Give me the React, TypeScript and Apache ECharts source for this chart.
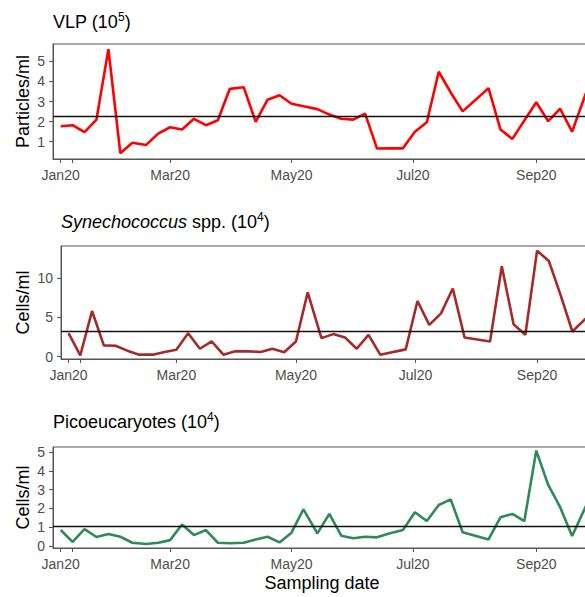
import React, { useEffect, useRef } from "react";
import * as echarts from "echarts";

// ---- data ----
const sampleDates = [
  "2020-01-06", "2020-01-12", "2020-01-18", "2020-01-24", "2020-01-30",
  "2020-02-05", "2020-02-11", "2020-02-18", "2020-02-24", "2020-03-01",
  "2020-03-07", "2020-03-13", "2020-03-19", "2020-03-25", "2020-03-31",
  "2020-04-07", "2020-04-13", "2020-04-19", "2020-04-25", "2020-05-01",
  "2020-05-07", "2020-05-14", "2020-05-20", "2020-05-26", "2020-06-01",
  "2020-06-07", "2020-06-13", "2020-06-19", "2020-06-26", "2020-07-02",
  "2020-07-08", "2020-07-14", "2020-07-20", "2020-07-26", "2020-08-08",
  "2020-08-14", "2020-08-20", "2020-08-26", "2020-09-01", "2020-09-07",
  "2020-09-13", "2020-09-19", "2020-09-26",
];

const vlp = [
  1.77, 1.82, 1.48, 2.10, 5.60, 0.43, 0.95, 0.84, 1.40, 1.72,
  1.61, 2.14, 1.82, 2.07, 3.63, 3.71, 1.99, 3.09, 3.31, 2.89,
  2.76, 2.62, 2.35, 2.14, 2.10, 2.40, 0.66, 0.67, 0.67, 1.50,
  1.97, 4.48, 3.45, 2.51, 3.66, 1.61, 1.14, null, 2.96, 2.02,
  2.64, 1.50, 3.42,
];

const synechococcus = [
  2.98, 0.17, 5.80, 1.43, 1.39, 0.76, 0.25, 0.25, 0.59, 0.88,
  2.98, 1.00, 1.93, 0.25, 0.67, 0.67, 0.59, 1.00, 0.55, 1.93,
  8.16, 2.35, 2.86, 2.44, 1.00, 2.77, 0.25, null, 0.92, 7.06,
  4.04, 5.50, 8.66, 2.44, 1.93, 11.47, 4.12, 2.77, 13.45, 12.15,
  7.82, 3.19, 4.88,
];

const picoeukaryotes = [
  0.84, 0.21, 0.89, 0.47, 0.63, 0.48, 0.16, 0.09, 0.16, 0.30,
  1.14, 0.57, 0.84, 0.16, 0.13, 0.16, 0.34, 0.48, 0.18, 0.70,
  1.95, 0.66, 1.70, 0.54, 0.40, 0.48, 0.45, 0.66, 0.84, 1.79,
  1.32, 2.18, 2.48, 0.72, 0.34, 1.52, 1.70, 1.32, 5.09, 3.25,
  2.06, 0.52, 2.13,
];

const meanLines = [2.27, 3.28, 1.02];

const tickDates = ["2020-01-06", "2020-01-12", "2020-03-01", "2020-05-01", "2020-07-01", "2020-09-01"];
const labelDates = ["2020-01-06", "2020-03-01", "2020-05-01", "2020-07-01", "2020-09-01"];
const tickLabels = ["Jan20", "Mar20", "May20", "Jul20", "Sep20"];

const yTicksVlp = [1, 2, 3, 4, 5];
const yTicksSyn = [0, 5, 10];
const yTicksPico = [0, 1, 2, 3, 4, 5];

// ---- helpers ----
const dayOf = (s: string) => (Date.parse(s) - Date.parse("2020-01-01")) / 864e5;
const FONT = "'Liberation Sans', Arial, Helvetica, sans-serif";

export default function App() {
  const ref = useRef<HTMLDivElement>(null);

  useEffect(() => {
    if (!ref.current) return;
    const chart = echarts.init(ref.current, undefined, { renderer: "svg" });

    const sampleDays = sampleDates.map(dayOf);
    const tickDays = tickDates.map(dayOf);
    const labelDays = labelDates.map(dayOf);
    const xMin = 1.16;
    const xMax = 271.5;

    const panels = [
      { values: vlp, color: "#ff0000", yMin: 0.14, yMax: 5.86, ticks: yTicksVlp, name: "Particles/ml", left: 53, top: 44, height: 115, nameGap: 21 },
      { values: synechococcus, color: "#a52a2a", yMin: -0.3, yMax: 14.05, ticks: yTicksSyn, name: "Cells/ml", left: 61, top: 246, height: 113, nameGap: 29 },
      { values: picoeukaryotes, color: "#2e8b57", yMin: -0.12, yMax: 5.28, ticks: yTicksPico, name: "Cells/ml", left: 53, top: 447, height: 101, nameGap: 21 },
    ];

    const axisColor = "#4d4d4d";

    const option: any = {
      animation: false,
      grid: panels.map((p) => ({
        left: p.left,
        top: p.top,
        height: p.height,
        right: 9,
        show: true,
        borderColor: "#555",
        borderWidth: 1,
        backgroundColor: "transparent",
      })),
      xAxis: panels.map((p, i) => ({
        type: "value",
        gridIndex: i,
        min: xMin,
        max: xMax,
        axisLine: { show: true, onZero: false, lineStyle: { color: "#555", width: 1 } },
        axisTick: { show: true, length: 4, customValues: tickDays, lineStyle: { color: "#555" } },
        axisLabel: {
          show: true,
          customValues: labelDays,
          margin: 9,
          color: axisColor,
          fontSize: 14,
          fontFamily: FONT,
          formatter: (v: number) => {
            const k = labelDays.findIndex((d) => Math.abs(d - v) < 0.01);
            return k >= 0 ? tickLabels[k] : "";
          },
        },
        splitLine: { show: false },
        name: i === 2 ? "Sampling date" : "",
        nameLocation: "middle",
        nameGap: 26,
        nameMoveOverlap: false,
        nameTextStyle: { fontSize: 18, color: "#000", fontFamily: FONT },
      })),
      yAxis: panels.map((p, i) => ({
        type: "value",
        gridIndex: i,
        min: p.yMin,
        max: p.yMax,
        axisLine: { show: true, onZero: false, lineStyle: { color: "#555", width: 1 } },
        axisTick: { show: true, length: 4, customValues: p.ticks, lineStyle: { color: "#555" } },
        axisLabel: {
          show: true,
          customValues: p.ticks,
          margin: 8,
          color: axisColor,
          fontSize: 14,
          fontFamily: FONT,
        },
        splitLine: { show: false },
        name: p.name,
        nameLocation: "middle",
        nameRotate: 90,
        nameGap: p.nameGap,
        nameMoveOverlap: false,
        nameTextStyle: { fontSize: 18, color: "#000", fontFamily: FONT },
      })),
      series: panels.map((p, i) => ({
        type: "line",
        xAxisIndex: i,
        yAxisIndex: i,
        data: sampleDays
          .map((d, k) => [d, p.values[k]])
          .filter((pt) => pt[1] !== null && pt[1] !== undefined),
        symbol: "none",
        showSymbol: false,
        clip: true,
        lineStyle: { color: p.color, width: 2.6 },
        markLine: {
          silent: true,
          symbol: "none",
          label: { show: false },
          lineStyle: { color: "#111", width: 1.4, type: "solid" },
          data: [{ yAxis: meanLines[i] }],
        },
      })),
      graphic: [
        {
          type: "text",
          x: 53,
          y: 22,
          style: {
            text: "{n|VLP (10}{s|5}{n|)}",
            verticalAlign: "middle",
            rich: {
              n: { fontSize: 18, fontFamily: FONT, fill: "#000", lineHeight: 22 },
              s: { fontSize: 12, fontFamily: FONT, fill: "#000", verticalAlign: "top", lineHeight: 12 },
            },
          },
        },
        {
          type: "text",
          x: 61,
          y: 222,
          style: {
            text: "{i|Synechococcus}{n| spp. (10}{s|4}{n|)}",
            verticalAlign: "middle",
            rich: {
              i: { fontSize: 18, fontFamily: FONT, fontStyle: "italic", fill: "#000", lineHeight: 22 },
              n: { fontSize: 18, fontFamily: FONT, fill: "#000", lineHeight: 22 },
              s: { fontSize: 12, fontFamily: FONT, fill: "#000", verticalAlign: "top", lineHeight: 12 },
            },
          },
        },
        {
          type: "text",
          x: 53,
          y: 422,
          style: {
            text: "{n|Picoeucaryotes (10}{s|4}{n|)}",
            verticalAlign: "middle",
            rich: {
              n: { fontSize: 18, fontFamily: FONT, fill: "#000", lineHeight: 22 },
              s: { fontSize: 12, fontFamily: FONT, fill: "#000", verticalAlign: "top", lineHeight: 12 },
            },
          },
        },
      ],
    };

    chart.setOption(option);
    return () => chart.dispose();
  }, []);

  return (
    <div style={{ position: "absolute", left: 0, top: 0, width: 585, height: 597, overflow: "hidden", background: "#fff" }}>
      <div ref={ref} style={{ width: 600, height: 597 }} />
    </div>
  );
}
